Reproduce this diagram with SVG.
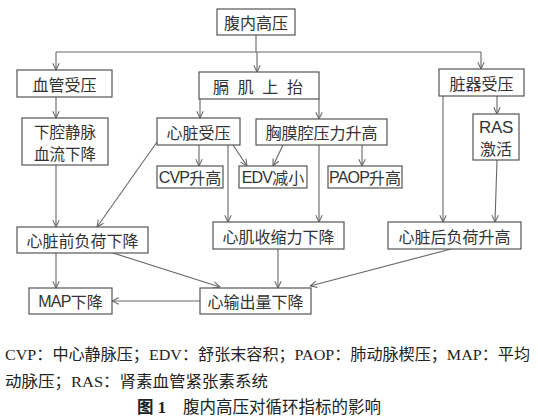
<svg xmlns="http://www.w3.org/2000/svg" width="538" height="420" viewBox="0 0 538 420">
<style>
.box{fill:#fff;stroke:#555;stroke-width:1.2}
.t{font-family:"Noto Sans CJK SC","Liberation Sans",sans-serif;font-size:16px;fill:#333;text-anchor:middle;dominant-baseline:central}
.lat{font-family:"Liberation Sans",Arial,sans-serif;font-size:16px;letter-spacing:-0.8px}
.c{stroke:#666;stroke-width:1.1;fill:none}
.a{marker-end:url(#arr)}
.cap{font-family:"Liberation Serif","Noto Sans CJK SC",serif;font-size:15.5px;fill:#222}
</style>
<defs>
<marker id="arr" viewBox="0 0 10 10" refX="9.5" refY="5" markerWidth="8" markerHeight="8" markerUnits="userSpaceOnUse" orient="auto">
<polyline points="1,1 9.5,5 1,9" fill="none" stroke="#666" stroke-width="1.3"/>
</marker>
</defs>
<rect width="538" height="420" fill="#fff"/>
<g id="connectors">
<path class="c" d="M256,35 V52 M56,52 H481"/>
<line class="c a" x1="56" y1="52" x2="56" y2="70"/>
<line class="c a" x1="257" y1="52" x2="257" y2="72"/>
<line class="c a" x1="481" y1="52" x2="481" y2="69"/>
<line class="c a" x1="56" y1="97" x2="56" y2="118"/>
<line class="c a" x1="200" y1="99" x2="200" y2="118"/>
<line class="c a" x1="319" y1="99" x2="319" y2="119"/>
<line class="c a" x1="497" y1="96" x2="497" y2="114"/>
<line class="c a" x1="443" y1="96" x2="443" y2="222"/>
<line class="c a" x1="497" y1="160" x2="495" y2="222"/>
<line class="c a" x1="199" y1="145" x2="199" y2="166"/>
<line class="c a" x1="233" y1="145" x2="247" y2="166"/>
<line class="c a" x1="283" y1="145" x2="273" y2="166"/>
<line class="c a" x1="362" y1="145" x2="362" y2="166"/>
<line class="c a" x1="228" y1="145" x2="228" y2="222"/>
<line class="c a" x1="319" y1="145" x2="319" y2="222"/>
<line class="c a" x1="157" y1="142" x2="97" y2="227"/>
<line class="c a" x1="56" y1="165" x2="56" y2="227"/>
<line class="c a" x1="56" y1="253" x2="56" y2="288"/>
<line class="c a" x1="113" y1="253" x2="220" y2="287"/>
<line class="c a" x1="278" y1="249" x2="278" y2="288"/>
<line class="c a" x1="451" y1="249" x2="310" y2="286"/>
<line class="c a" x1="200" y1="301" x2="112" y2="301"/>
</g>
<g id="n1"><rect class="box" x="217" y="9" width="78" height="26"/><text class="t" x="256" y="22">腹内高压</text></g>
<g id="n2"><rect class="box" x="17" y="70" width="95" height="27"/><text class="t" x="64.5" y="83.5">血管受压</text></g>
<g id="n3"><rect class="box" x="199" y="72" width="120" height="27"/><text class="t" x="258" y="85.5" textLength="90" lengthAdjust="spacing">膈 肌 上 抬</text></g>
<g id="n4"><rect class="box" x="439" y="69" width="85" height="27"/><text class="t" x="481.5" y="82.5">脏器受压</text></g>
<g id="n5"><rect class="box" x="22" y="118" width="86" height="47"/><text class="t" x="65" y="131" style="font-size:15.5px">下腔静脉</text><text class="t" x="65" y="153" style="font-size:15.5px">血流下降</text></g>
<g id="n6"><rect class="box" x="157" y="118" width="83" height="27"/><text class="t" x="198.5" y="131.5">心脏受压</text></g>
<g id="n7"><rect class="box" x="256" y="119" width="131" height="26"/><text class="t" x="321.5" y="132">胸膜腔压力升高</text></g>
<g id="n8"><rect class="box" x="473" y="114" width="46" height="46"/><text class="t" x="496" y="127"><tspan class="lat" style="font-size:17px;letter-spacing:-0.3px">RAS</tspan></text><text class="t" x="496" y="148">激活</text></g>
<g id="n9"><rect class="box" x="157" y="166" width="66" height="22"/><text class="t" x="190" y="177"><tspan class="lat">CVP</tspan>升高</text></g>
<g id="n10"><rect class="box" x="239" y="166" width="68" height="22"/><text class="t" x="273" y="177"><tspan class="lat">EDV</tspan>减小</text></g>
<g id="n11"><rect class="box" x="328" y="166" width="74" height="22"/><text class="t" x="365" y="177"><tspan class="lat">PAOP</tspan>升高</text></g>
<g id="n12"><rect class="box" x="17" y="227" width="131" height="26"/><text class="t" x="82.5" y="240">心脏前负荷下降</text></g>
<g id="n13"><rect class="box" x="213" y="222" width="131" height="27"/><text class="t" x="278.5" y="235.5">心肌收缩力下降</text></g>
<g id="n14"><rect class="box" x="388" y="222" width="133" height="27"/><text class="t" x="454.5" y="235.5">心脏后负荷升高</text></g>
<g id="n15"><rect class="box" x="29" y="288" width="83" height="26"/><text class="t" x="70.5" y="301"><tspan class="lat">MAP</tspan>下降</text></g>
<g id="n16"><rect class="box" x="200" y="288" width="111" height="26"/><text class="t" x="255.5" y="301">心输出量下降</text></g>
<g id="caption">
<text class="cap" x="5" y="360" textLength="525" lengthAdjust="spacingAndGlyphs">CVP：中心静脉压；EDV：舒张末容积；PAOP：肺动脉楔压；MAP：平均</text>
<text class="cap" x="5" y="387" textLength="263" lengthAdjust="spacingAndGlyphs">动脉压；RAS：肾素血管紧张素系统</text>
<text class="cap" x="137" y="413" style="font-size:16.5px"><tspan font-weight="bold">图 1</tspan><tspan x="183">腹内高压对循环指标的影响</tspan></text>
</g>
</svg>
